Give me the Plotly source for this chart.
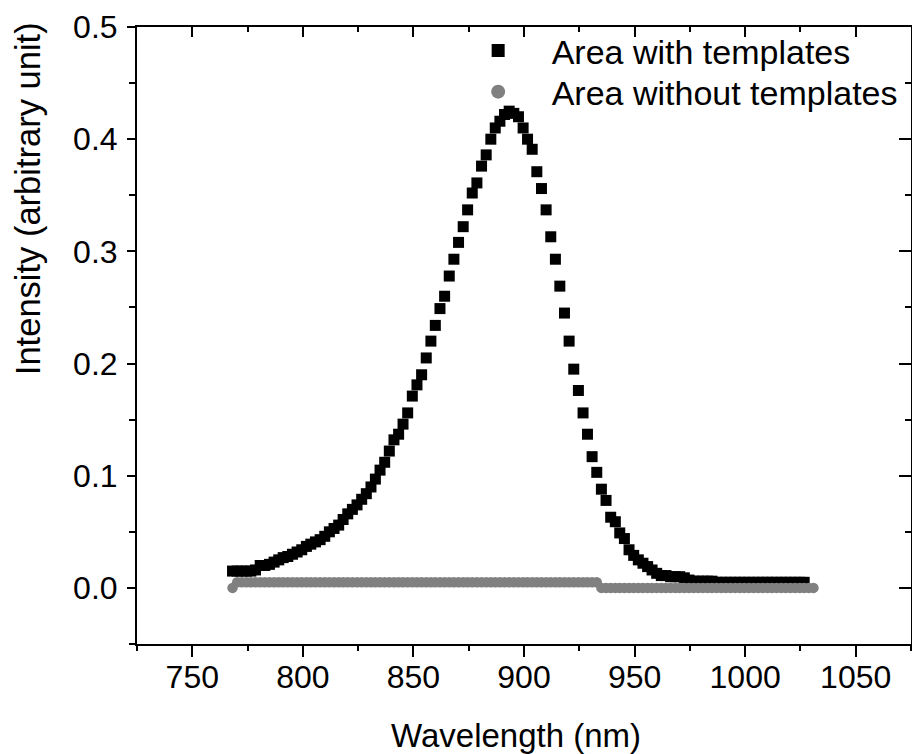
import plotly.graph_objects as go

# ---------------- data ----------------
wavelength_nm = [
    768.2, 770.3, 772.4, 774.5, 776.5, 778.6, 780.7, 782.8, 784.9, 787.0,
    789.1, 791.1, 793.2, 795.3, 797.4, 799.5, 801.6, 803.6, 805.7, 807.8,
    809.9, 812.0, 814.1, 816.2, 818.2, 820.3, 822.4, 824.5, 826.6, 828.7,
    830.8, 832.8, 834.9, 837.0, 839.1, 841.2, 843.3, 845.3, 847.4, 849.5,
    851.6, 853.7, 855.8, 857.9, 859.9, 862.0, 864.1, 866.2, 868.3, 870.4,
    872.5, 874.5, 876.6, 878.7, 880.8, 882.9, 885.0, 887.0, 889.1, 891.2,
    893.3, 895.4, 897.5, 899.6, 901.6, 903.7, 905.8, 907.9, 910.0, 912.1,
    914.2, 916.2, 918.3, 920.4, 922.5, 924.6, 926.7, 928.7, 930.8, 932.9,
    935.0, 937.1, 939.2, 941.3, 943.3, 945.4, 947.5, 949.6, 951.7, 953.8,
    955.9, 957.9, 960.0, 962.1, 964.2, 966.3, 968.4, 970.4, 972.5, 974.6,
    976.7, 978.8, 980.9, 983.0, 985.0, 987.1, 989.2, 991.3, 993.4, 995.5,
    997.6, 999.6, 1001.7, 1003.8, 1005.9, 1008.0, 1010.1, 1012.1, 1014.2, 1016.3,
    1018.4, 1020.5, 1022.6, 1024.7, 1026.7, 1028.8, 1030.9,
]

with_templates = [
    0.015, 0.015, 0.015, 0.015, 0.015, 0.016, 0.020, 0.020, 0.021, 0.023,
    0.025, 0.027, 0.028, 0.030, 0.032, 0.034, 0.037, 0.039, 0.041, 0.043,
    0.046, 0.050, 0.053, 0.056, 0.061, 0.066, 0.070, 0.074, 0.079, 0.084,
    0.090, 0.097, 0.105, 0.112, 0.122, 0.132, 0.137, 0.146, 0.156, 0.171,
    0.181, 0.190, 0.205, 0.220, 0.234, 0.249, 0.260, 0.278, 0.293, 0.308,
    0.322, 0.337, 0.352, 0.361, 0.376, 0.386, 0.400, 0.410, 0.416, 0.422,
    0.425, 0.423, 0.420, 0.410, 0.400, 0.391, 0.371, 0.356, 0.337, 0.313,
    0.293, 0.269, 0.245, 0.220, 0.195, 0.176, 0.156, 0.137, 0.117, 0.103,
    0.088, 0.078, 0.063, 0.059, 0.049, 0.044, 0.034, 0.029, 0.025, 0.022,
    0.019, 0.016, 0.013, 0.011, 0.011, 0.010, 0.010, 0.010, 0.009, 0.007,
    0.006, 0.006, 0.006, 0.006, 0.006, 0.005, 0.005, 0.005, 0.005, 0.005,
    0.005, 0.005, 0.005, 0.005, 0.005, 0.005, 0.005, 0.005, 0.005, 0.005,
    0.005, 0.005, 0.005, 0.005, 0.005,
]

without_templates = [
    0.000, 0.005, 0.005, 0.005, 0.005, 0.005, 0.005, 0.005, 0.005, 0.005,
    0.005, 0.005, 0.005, 0.005, 0.005, 0.005, 0.005, 0.005, 0.005, 0.005,
    0.005, 0.005, 0.005, 0.005, 0.005, 0.005, 0.005, 0.005, 0.005, 0.005,
    0.005, 0.005, 0.005, 0.005, 0.005, 0.005, 0.005, 0.005, 0.005, 0.005,
    0.005, 0.005, 0.005, 0.005, 0.005, 0.005, 0.005, 0.005, 0.005, 0.005,
    0.005, 0.005, 0.005, 0.005, 0.005, 0.005, 0.005, 0.005, 0.005, 0.005,
    0.005, 0.005, 0.005, 0.005, 0.005, 0.005, 0.005, 0.005, 0.005, 0.005,
    0.005, 0.005, 0.005, 0.005, 0.005, 0.005, 0.005, 0.005, 0.005, 0.005,
    0.000, 0.000, 0.000, 0.000, 0.000, 0.000, 0.000, 0.000, 0.000, 0.000,
    0.000, 0.000, 0.000, 0.000, 0.000, 0.000, 0.000, 0.000, 0.000, 0.000,
    0.000, 0.000, 0.000, 0.000, 0.000, 0.000, 0.000, 0.000, 0.000, 0.000,
    0.000, 0.000, 0.000, 0.000, 0.000, 0.000, 0.000, 0.000, 0.000, 0.000,
    0.000, 0.000, 0.000, 0.000, 0.000, 0.000, 0.000,
]

series_names = ["Area with templates", "Area without templates"]
x_tick_vals = [750, 800, 850, 900, 950, 1000, 1050]
y_tick_vals = [0.0, 0.1, 0.2, 0.3, 0.4, 0.5]
x_range = [725, 1075]
y_range = [-0.05, 0.5]
x_title = "Wavelength (nm)"
y_title = "Intensity (arbitrary unit)"

FONT = "Arial, 'Liberation Sans', sans-serif"
BLACK = "#000000"
GRAY = "#808080"

fig = go.Figure()

fig.add_trace(go.Scatter(
    x=wavelength_nm[:len(with_templates)], y=with_templates, mode="markers",
    marker=dict(symbol="square", size=11, color=BLACK, line=dict(width=0)),
    showlegend=False, hoverinfo="skip"))
fig.add_trace(go.Scatter(
    x=wavelength_nm, y=without_templates, mode="markers",
    marker=dict(symbol="circle", size=10.5, color=GRAY, line=dict(width=0)),
    showlegend=False, hoverinfo="skip"))

# legend-only entries (larger symbols, as in the reference legend)
fig.add_trace(go.Scatter(
    x=[None], y=[None], mode="markers", name=series_names[0],
    xaxis="x2", yaxis="y2", legend="legend",
    marker=dict(symbol="square", size=13, color=BLACK, line=dict(width=0))))
fig.add_trace(go.Scatter(
    x=[None], y=[None], mode="markers", name=series_names[1],
    xaxis="x2", yaxis="y2", legend="legend2",
    marker=dict(symbol="circle", size=14, color=GRAY, line=dict(width=0))))

axis_common = dict(showgrid=False, zeroline=False, showline=True,
                   linecolor=BLACK, linewidth=2, tickcolor=BLACK, tickwidth=2)

legend_common = dict(xanchor="left", yanchor="top", bgcolor="rgba(0,0,0,0)",
                     borderwidth=0, itemwidth=97, tracegroupgap=0,
                     font=dict(size=34, family=FONT, color=BLACK))

fig.update_layout(
    width=912, height=754,
    margin=dict(l=137, r=1, t=27, b=110),
    paper_bgcolor="white", plot_bgcolor="white",
    font=dict(family=FONT, color=BLACK, size=32),
    xaxis=dict(range=x_range, tickvals=x_tick_vals, ticks="outside", ticklen=11,
               ticklabelstandoff=-7,
               tickfont=dict(size=32, family=FONT, color=BLACK),
               minor=dict(dtick=25, tick0=725, ticks="outside", ticklen=5,
                          tickwidth=2, tickcolor=BLACK),
               **axis_common),
    yaxis=dict(range=y_range, tickvals=y_tick_vals, tickformat=".1f",
               ticks="outside", ticklen=8, ticklabelstandoff=3,
               tickfont=dict(size=32, family=FONT, color=BLACK),
               minor=dict(dtick=0.05, tick0=-0.05, ticks="outside", ticklen=6,
                          tickwidth=2, tickcolor=BLACK),
               **axis_common),
    xaxis2=dict(range=x_range, overlaying="x", side="top", anchor="y2",
                tickvals=x_tick_vals, ticks="inside", ticklen=10,
                showticklabels=False,
                minor=dict(dtick=25, tick0=725, ticks="inside", ticklen=5,
                           tickwidth=2, tickcolor=BLACK),
                **axis_common),
    yaxis2=dict(range=y_range, overlaying="y", side="right", anchor="x2",
                tickvals=y_tick_vals, ticks="inside", ticklen=12,
                showticklabels=False,
                minor=dict(dtick=0.05, tick0=-0.05, ticks="inside", ticklen=6,
                           tickwidth=2, tickcolor=BLACK),
                **axis_common),
    legend=dict(x=0.3975, y=1.0081, **legend_common),
    legend2=dict(x=0.3975, y=0.9416, **legend_common),
    annotations=[
        dict(text=x_title, xref="paper", yref="paper", x=0.490, y=-0.1475,
             xanchor="center", yanchor="middle", showarrow=False,
             font=dict(size=33, family=FONT, color=BLACK)),
        dict(text=y_title, xref="paper", yref="paper", x=-0.1408, y=0.721,
             xanchor="center", yanchor="middle", showarrow=False, textangle=-90,
             font=dict(size=34.5, family=FONT, color=BLACK)),
    ],
)

fig.write_html("out.html")
